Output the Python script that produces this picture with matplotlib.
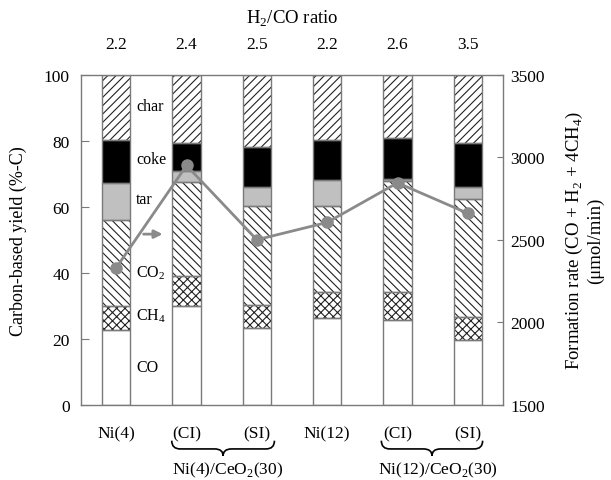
import matplotlib
matplotlib.use("Agg")
import matplotlib.pyplot as plt
import numpy as np
from matplotlib.path import Path
from matplotlib.patches import PathPatch
import matplotlib.transforms as mtransforms

plt.rcParams['font.family'] = ['Liberation Serif', 'DejaVu Serif']
plt.rcParams['mathtext.fontset'] = 'custom'
plt.rcParams['mathtext.rm'] = 'Liberation Serif'
plt.rcParams['hatch.linewidth'] = 0.8

catalysts = ["Ni(4)", "(CI)", "(SI)", "Ni(12)", "(CI)", "(SI)"]
h2co_ratio = ["2.2", "2.4", "2.5", "2.2", "2.6", "3.5"]
groups = ["Ni(4)/CeO$_2$(30)", "Ni(12)/CeO$_2$(30)"]

# component yields (%-C)
co = [22.7, 29.8, 23.2, 26.2, 25.8, 19.6]
ch4 = [7.3, 9.3, 7.1, 7.9, 8.3, 6.9]
co2 = [26.0, 28.3, 30.0, 26.2, 33.8, 35.8]
tar = [11.1, 3.3, 5.6, 7.8, 0.6, 3.6]
coke = [13.1, 8.6, 12.1, 12.2, 12.4, 13.4]
char = [19.8, 20.7, 22.0, 19.7, 19.1, 20.7]

formation_rate = [2330, 2950, 2500, 2605, 2845, 2660]

components = ["CO", "CH$_4$", "CO$_2$", "tar", "coke", "char"]
series = [co, ch4, co2, tar, coke, char]
faces = ["white", "white", "white", "#c0c0c0", "black", "white"]
hatches = [None, "xxxx", "\\\\\\\\", None, None, "////"]

edge = "#7a7a7a"
fig = plt.figure(figsize=(6.11, 4.81), dpi=100)
ax = fig.add_axes([0.1326, 0.1565, 0.6907, 0.686])
x = np.arange(len(catalysts))
w = 0.4
bottom = np.zeros(len(x))
for vals, fc, h in zip(series, faces, hatches):
    vals = np.array(vals)
    ax.bar(x, vals, w, bottom=bottom, color=fc, hatch=h, edgecolor="#222222", linewidth=0, zorder=2)
    ax.bar(x, vals, w, bottom=bottom, fill=False, edgecolor=edge, linewidth=1.0, zorder=3)
    bottom += vals

ax.set_xlim(-0.5, 5.5)
ax.set_ylim(0, 100)
ax.set_yticks([0, 20, 40, 60, 80, 100])
ax.set_xticks([])
ax.tick_params(axis='y', direction='in', length=6, color=edge, labelsize=12.5, pad=8)
for s in ax.spines.values():
    s.set_color(edge)
    s.set_linewidth(1.0)
ax.set_ylabel("Carbon-based yield (%-C)", fontsize=13, labelpad=12)

ax2 = ax.twinx()
ax2.set_ylim(1500, 3500)
ax2.set_yticks([1500, 2000, 2500, 3000, 3500])
ax2.tick_params(axis='y', direction='in', length=4, color=edge, labelsize=12.5, pad=5)
for s in ax2.spines.values():
    s.set_visible(False)
ax2.plot(x, formation_rate, color="#8a8a8a", lw=2, marker='o', ms=8, zorder=5)
ax2.set_ylabel("Formation rate (CO + H$_2$ + 4CH$_4$)\n(μmol/min)", fontsize=13.5,
               labelpad=14, linespacing=1.1)

# top ratio labels
for xi, r in zip(x, h2co_ratio):
    ax.text(xi, 109.2, r, ha='center', va='center', fontsize=12.5)
ax.text(2.5, 117.3, "H$_2$/CO ratio", ha='center', va='center', fontsize=13.5)

# bottom labels
trans = mtransforms.blended_transform_factory(ax.transData, ax.transAxes)
for xi, c in zip(x, catalysts):
    ax.text(xi, -0.062, c, ha='center', va='top', fontsize=12.5, transform=trans)

def brace(x0, x1, ytop, ymid, ytip):
    xm = (x0 + x1) / 2
    r = 0.12
    verts = [(x0, ytop), (x0, ymid), (x0 + r, ymid),
             (xm - r, ymid), (xm, ymid), (xm, ytip),
             (xm, ymid), (xm + r, ymid),
             (x1 - r, ymid), (x1, ymid), (x1, ytop)]
    codes = [Path.MOVETO, Path.CURVE3, Path.CURVE3,
             Path.LINETO, Path.CURVE3, Path.CURVE3,
             Path.CURVE3, Path.CURVE3,
             Path.LINETO, Path.CURVE3, Path.CURVE3]
    p = PathPatch(Path(verts, codes), fill=False, lw=1.2, edgecolor='black',
                  transform=trans, clip_on=False)
    ax.add_patch(p)

brace(0.79, 2.25, -0.109, -0.134, -0.155)
brace(3.77, 5.21, -0.109, -0.134, -0.155)
ax.text(1.59, -0.207, groups[0], ha='center', va='baseline', fontsize=12.5, transform=trans)
ax.text(4.57, -0.207, groups[1], ha='center', va='baseline', fontsize=12.5, transform=trans)

# component labels between bars
lab_x = 0.28
lab_y = [11.3, 27, 40.2, 62.3, 74.5, 90.6]
for lbl, yy in zip(components, lab_y):
    ax.text(lab_x, yy, lbl, ha='left', va='center', fontsize=11.5, zorder=6)
ax.annotate("", xy=(0.70, 51.7), xytext=(0.35, 51.7),
            arrowprops=dict(arrowstyle='-|>', color="#8a8a8a", lw=2, mutation_scale=12))

fig.savefig("out.png", dpi=100)
